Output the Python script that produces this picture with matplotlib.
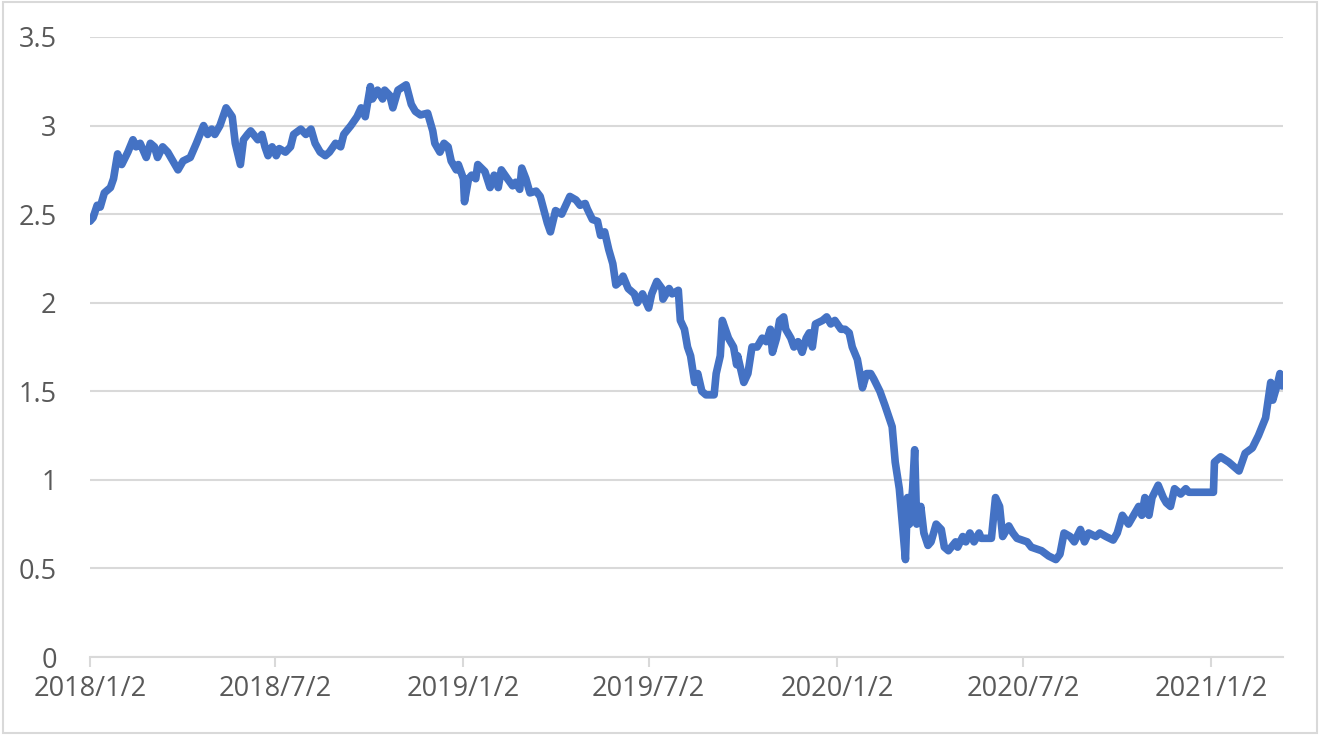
import matplotlib
matplotlib.use('Agg')
import matplotlib.pyplot as plt
import pandas as pd

# yield series
dates = [
    '2018-01-02', '2018-01-05', '2018-01-09', '2018-01-12', '2018-01-16', '2018-01-22', '2018-01-25', '2018-01-29',
    '2018-02-02', '2018-02-08', '2018-02-13', '2018-02-16', '2018-02-20', '2018-02-26', '2018-03-02', '2018-03-06',
    '2018-03-09', '2018-03-14', '2018-03-19', '2018-03-26', '2018-03-29', '2018-04-03', '2018-04-10', '2018-04-16',
    '2018-04-23', '2018-04-27', '2018-05-01', '2018-05-04', '2018-05-09', '2018-05-15', '2018-05-21', '2018-05-24',
    '2018-05-29', '2018-06-01', '2018-06-05', '2018-06-08', '2018-06-15', '2018-06-19', '2018-06-22', '2018-06-25',
    '2018-06-29', '2018-07-03', '2018-07-06', '2018-07-12', '2018-07-17', '2018-07-20', '2018-07-27', '2018-08-01',
    '2018-08-06', '2018-08-10', '2018-08-15', '2018-08-20', '2018-08-24', '2018-08-30', '2018-09-04', '2018-09-07',
    '2018-09-14', '2018-09-20', '2018-09-24', '2018-09-28', '2018-10-03', '2018-10-05', '2018-10-10', '2018-10-15',
    '2018-10-17', '2018-10-22', '2018-10-25', '2018-10-30', '2018-11-07', '2018-11-12', '2018-11-16', '2018-11-21',
    '2018-11-28', '2018-12-03', '2018-12-05', '2018-12-10', '2018-12-14', '2018-12-18', '2018-12-21', '2018-12-26',
    '2018-12-28', '2019-01-02', '2019-01-03', '2019-01-07', '2019-01-10', '2019-01-14', '2019-01-16', '2019-01-23',
    '2019-01-28', '2019-02-01', '2019-02-05', '2019-02-08', '2019-02-14', '2019-02-19', '2019-02-22', '2019-02-26',
    '2019-02-28', '2019-03-04', '2019-03-08', '2019-03-14', '2019-03-18', '2019-03-25', '2019-03-28', '2019-04-02',
    '2019-04-08', '2019-04-12', '2019-04-16', '2019-04-22', '2019-04-26', '2019-05-01', '2019-05-03', '2019-05-08',
    '2019-05-13', '2019-05-16', '2019-05-20', '2019-05-24', '2019-05-28', '2019-05-31', '2019-06-04', '2019-06-07',
    '2019-06-12', '2019-06-18', '2019-06-21', '2019-06-26', '2019-07-02', '2019-07-05', '2019-07-10', '2019-07-15',
    '2019-07-16', '2019-07-22', '2019-07-25', '2019-07-31', '2019-08-02', '2019-08-06', '2019-08-09', '2019-08-12',
    '2019-08-16', '2019-08-19', '2019-08-23', '2019-08-27', '2019-09-04', '2019-09-06', '2019-09-10', '2019-09-12',
    '2019-09-18', '2019-09-23', '2019-09-26', '2019-09-27', '2019-10-03', '2019-10-07', '2019-10-11', '2019-10-16',
    '2019-10-21', '2019-10-25', '2019-10-29', '2019-10-31', '2019-11-04', '2019-11-07', '2019-11-11', '2019-11-13',
    '2019-11-18', '2019-11-21', '2019-11-25', '2019-11-29', '2019-12-03', '2019-12-06', '2019-12-09', '2019-12-12',
    '2019-12-19', '2019-12-23', '2019-12-27', '2019-12-31', '2020-01-06', '2020-01-10', '2020-01-14', '2020-01-17',
    '2020-01-22', '2020-01-27', '2020-01-31', '2020-02-04', '2020-02-07', '2020-02-13', '2020-02-18', '2020-02-25',
    '2020-02-28', '2020-03-03', '2020-03-09', '2020-03-11', '2020-03-13', '2020-03-16', '2020-03-18', '2020-03-20',
    '2020-03-24', '2020-03-27', '2020-03-31', '2020-04-03', '2020-04-08', '2020-04-13', '2020-04-16', '2020-04-20',
    '2020-04-27', '2020-04-29', '2020-05-04', '2020-05-07', '2020-05-11', '2020-05-15', '2020-05-20', '2020-05-22',
    '2020-06-01', '2020-06-05', '2020-06-09', '2020-06-12', '2020-06-18', '2020-06-22', '2020-06-26', '2020-07-06',
    '2020-07-10', '2020-07-20', '2020-07-27', '2020-08-03', '2020-08-07', '2020-08-11', '2020-08-17', '2020-08-21',
    '2020-08-27', '2020-08-31', '2020-09-04', '2020-09-11', '2020-09-15', '2020-09-21', '2020-09-28', '2020-10-02',
    '2020-10-07', '2020-10-13', '2020-10-16', '2020-10-23', '2020-10-26', '2020-10-29', '2020-11-02', '2020-11-05',
    '2020-11-11', '2020-11-16', '2020-11-19', '2020-11-23', '2020-11-27', '2020-12-03', '2020-12-08', '2020-12-11',
    '2021-01-04', '2021-01-05', '2021-01-11', '2021-01-19', '2021-01-29', '2021-02-04', '2021-02-11', '2021-02-17',
    '2021-02-24', '2021-03-01', '2021-03-03', '2021-03-08', '2021-03-10', '2021-03-12',
]
values = [
    2.46, 2.48, 2.55, 2.54, 2.62, 2.65, 2.70, 2.84,
    2.78, 2.85, 2.92, 2.88, 2.90, 2.82, 2.90, 2.88,
    2.82, 2.88, 2.85, 2.78, 2.75, 2.80, 2.82, 2.90,
    3.00, 2.95, 2.98, 2.95, 3.00, 3.10, 3.05, 2.90,
    2.78, 2.92, 2.95, 2.97, 2.92, 2.95, 2.88, 2.83,
    2.88, 2.83, 2.87, 2.85, 2.88, 2.95, 2.98, 2.95,
    2.98, 2.90, 2.85, 2.83, 2.85, 2.90, 2.88, 2.95,
    3.00, 3.05, 3.10, 3.05, 3.22, 3.15, 3.20, 3.15,
    3.20, 3.17, 3.10, 3.20, 3.23, 3.12, 3.08, 3.06,
    3.07, 2.97, 2.90, 2.85, 2.90, 2.88, 2.80, 2.75,
    2.78, 2.70, 2.57, 2.70, 2.72, 2.70, 2.78, 2.74,
    2.65, 2.72, 2.65, 2.75, 2.70, 2.66, 2.68, 2.64,
    2.76, 2.70, 2.62, 2.63, 2.60, 2.45, 2.40, 2.52,
    2.50, 2.55, 2.60, 2.58, 2.55, 2.56, 2.53, 2.47,
    2.46, 2.38, 2.40, 2.30, 2.22, 2.10, 2.12, 2.15,
    2.08, 2.05, 2.00, 2.05, 1.97, 2.05, 2.12, 2.08,
    2.02, 2.08, 2.05, 2.07, 1.90, 1.85, 1.75, 1.70,
    1.55, 1.60, 1.50, 1.48, 1.48, 1.60, 1.70, 1.90,
    1.80, 1.75, 1.65, 1.70, 1.55, 1.60, 1.75, 1.75,
    1.80, 1.78, 1.85, 1.72, 1.80, 1.90, 1.92, 1.85,
    1.80, 1.75, 1.78, 1.72, 1.80, 1.83, 1.75, 1.88,
    1.90, 1.92, 1.88, 1.90, 1.85, 1.85, 1.83, 1.75,
    1.68, 1.52, 1.60, 1.60, 1.57, 1.50, 1.42, 1.30,
    1.10, 0.95, 0.55, 0.90, 0.75, 0.95, 1.17, 0.75,
    0.85, 0.70, 0.63, 0.65, 0.75, 0.72, 0.62, 0.60,
    0.65, 0.62, 0.68, 0.65, 0.70, 0.65, 0.70, 0.67,
    0.67, 0.90, 0.85, 0.68, 0.74, 0.70, 0.67, 0.65,
    0.62, 0.60, 0.57, 0.55, 0.58, 0.70, 0.68, 0.65,
    0.72, 0.65, 0.70, 0.68, 0.70, 0.68, 0.66, 0.70,
    0.80, 0.75, 0.78, 0.85, 0.80, 0.90, 0.80, 0.90,
    0.97, 0.90, 0.87, 0.85, 0.95, 0.92, 0.95, 0.93,
    0.93, 1.10, 1.13, 1.10, 1.05, 1.15, 1.18, 1.25,
    1.35, 1.55, 1.45, 1.55, 1.60, 1.53,
]
tick_dates = ['2018-01-02', '2018-07-02', '2019-01-02', '2019-07-02',
              '2020-01-02', '2020-07-02', '2021-01-02']
tick_labels = ['2018/1/2', '2018/7/2', '2019/1/2', '2019/7/2',
               '2020/1/2', '2020/7/2', '2021/1/2']
y_ticks = [0, 0.5, 1, 1.5, 2, 2.5, 3, 3.5]

df = pd.DataFrame({'date': pd.to_datetime(dates), 'value': values})

plt.rcParams['font.family'] = ['Open Sans', 'DejaVu Sans']
text_color = '#595959'
grid_color = '#D9D9D9'

fig = plt.figure(figsize=(13.2, 7.35), dpi=100)
ax = fig.add_axes([90 / 1320, 1 - 657 / 735, 1193 / 1320, 620 / 735])

ax.plot(df['date'], df['value'], color='#4472C4', linewidth=5.5,
        solid_joinstyle='round', solid_capstyle='round', zorder=3)

ax.set_ylim(0, 3.5)
ax.set_yticks(y_ticks)
ax.set_yticklabels([f'{v:g}' for v in y_ticks])
ax.set_xlim(pd.Timestamp('2018-01-02'), pd.Timestamp('2021-03-13'))
ax.set_xticks(pd.to_datetime(tick_dates))
ax.set_xticklabels(tick_labels)

ax.grid(axis='y', color=grid_color, linewidth=1.5, zorder=0)
for side in ['top', 'right', 'left']:
    ax.spines[side].set_visible(False)
ax.spines['bottom'].set_color(grid_color)
ax.spines['bottom'].set_linewidth(1.5)
ax.spines['bottom'].set_zorder(1)

ax.tick_params(axis='y', length=0, pad=24, labelsize=19.5, labelcolor=text_color)
ax.tick_params(axis='x', length=7, width=1.5, color=grid_color, direction='out',
               pad=6, labelsize=19.5, labelcolor=text_color)

# light chart-area border like the spreadsheet export
fig.patches.append(plt.Rectangle((0.002, 0.003), 0.996, 0.994, transform=fig.transFigure,
                                 fill=False, edgecolor=grid_color, linewidth=1.5))

fig.savefig('out.png', dpi=100)
